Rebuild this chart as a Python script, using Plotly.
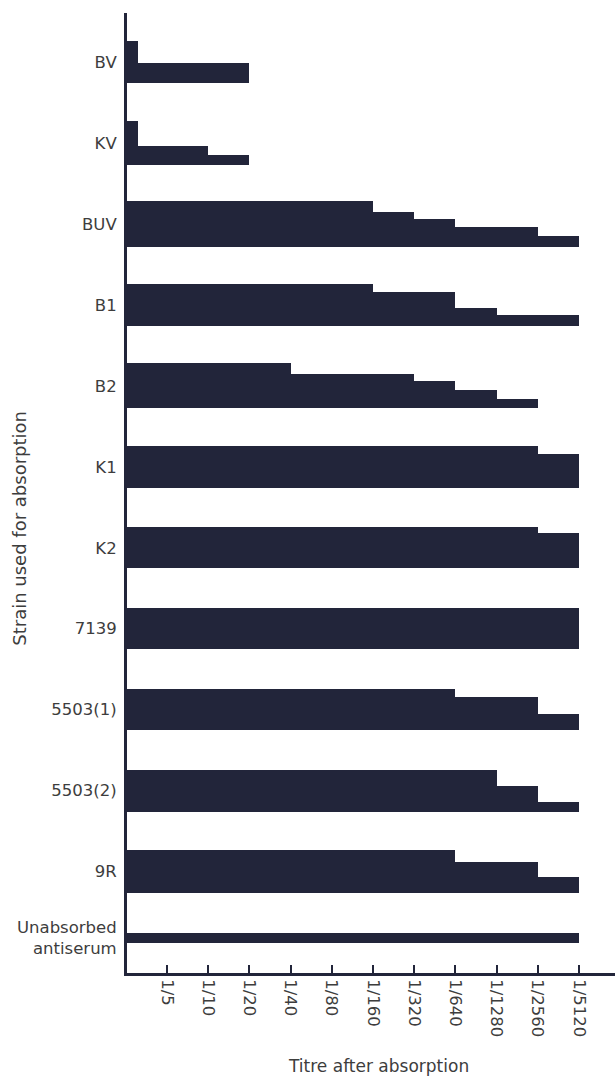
import plotly.graph_objects as go

# ---- data -------------------------------------------------------------
strains = ["BV", "KV", "BUV", "B1", "B2", "K1", "K2", "7139",
           "5503(1)", "5503(2)", "9R", "Unabsorbed<br>antiserum"]
titre_ticks = ["1/5", "1/10", "1/20", "1/40", "1/80", "1/160", "1/320",
               "1/640", "1/1280", "1/2560", "1/5120"]

# titre step reached by each band of a strain (1 = 1/5 ... 11 = 1/5120,
# values below 1 = below 1/5); bands listed top to bottom
bv_steps = [0.3, 3]
kv_steps = [0.3, 2, 3]
buv_steps = [6, 7, 8, 10, 11]
b1_steps = [6, 8, 9, 11]
b2_steps = [4, 7, 8, 9, 10]
k1_steps = [10, 11]
k2_steps = [10, 11]
s7139_steps = [11]
s5503_1_steps = [8, 10, 11]
s5503_2_steps = [9, 10, 11]
r9_steps = [8, 10, 11]
unabs_steps = [11]

# relative thickness of each band (same order)
bv_bands = [22.6, 20.0]
kv_bands = [25.0, 8.3, 10.0]
buv_bands = [10.7, 7.6, 7.7, 9.0, 11.0]
b1_bands = [8.3, 16.0, 7.4, 11.0]
b2_bands = [10.3, 7.4, 9.0, 8.6, 9.7]
k1_bands = [8.3, 34.0]
k2_bands = [5.7, 35.0]
s7139_bands = [41.0]
s5503_1_bands = [8.3, 17.4, 16.0]
s5503_2_bands = [16.0, 16.6, 9.4]
r9_bands = [11.7, 15.0, 16.6]
unabs_bands = [10.0]

all_steps = [bv_steps, kv_steps, buv_steps, b1_steps, b2_steps, k1_steps,
             k2_steps, s7139_steps, s5503_1_steps, s5503_2_steps, r9_steps,
             unabs_steps]
all_bands = [bv_bands, kv_bands, buv_bands, b1_bands, b2_bands, k1_bands,
             k2_bands, s7139_bands, s5503_1_bands, s5503_2_bands, r9_bands,
             unabs_bands]

# ---- layout constants ---------------------------------------------------
ROW_PITCH = 81.0                      # band units per row
row_pos = list(range(11)) + [10.82]   # row centres
BAR_COLOR = "#22253a"
TEXT_COLOR = "#3d3d3d"
FONT = "DejaVu Sans"

xs, ys, ws = [], [], []
for pos, steps, bands in zip(row_pos, all_steps, all_bands):
    total = sum(bands) / ROW_PITCH
    top = pos - total / 2
    for s, b in zip(steps, bands):
        h = b / ROW_PITCH
        xs.append(s)
        ys.append(top + h / 2)
        ws.append(h)
        top += h

fig = go.Figure(go.Bar(
    x=xs, y=ys, width=ws, base=0, orientation="h",
    marker=dict(color=BAR_COLOR, line=dict(width=0)),
    hoverinfo="skip", showlegend=False,
))

W, H = 615, 1077
L, R, T, B = 127, 0, 13, 103.5
plot_h = H - T - B
y_top = -(62 - T) / ROW_PITCH
y_bot = (H - B - 62) / ROW_PITCH
x_min = 0.03
x_max = x_min + (W - L - R) / 41.2

fig.update_layout(
    width=W, height=H,
    margin=dict(l=L, r=R, t=T, b=B, pad=0),
    paper_bgcolor="white", plot_bgcolor="white",
    font=dict(family=FONT, color=TEXT_COLOR, size=16),
    bargap=0,
    xaxis=dict(
        range=[x_min, x_max],
        tickmode="array",
        tickvals=list(range(1, len(titre_ticks) + 1)),
        ticktext=titre_ticks,
        tickangle=90,
        ticks="inside", ticklen=8, tickwidth=2, tickcolor=BAR_COLOR,
        showline=True, linewidth=3, linecolor=BAR_COLOR,
        showgrid=False, zeroline=False,
        tickfont=dict(family=FONT, size=16.5, color=TEXT_COLOR),
    ),
    yaxis=dict(
        range=[y_bot, y_top],
        tickmode="array",
        tickvals=row_pos,
        ticktext=strains,
        ticks="",
        ticklabelstandoff=4,
        showline=True, linewidth=3, linecolor=BAR_COLOR,
        showgrid=False, zeroline=False,
        tickfont=dict(family=FONT, size=16.5, color=TEXT_COLOR),
    ),
    annotations=[
        dict(text="Titre after absorption", xref="paper", yref="paper",
             x=(378 - L) / (W - L - R), y=(H - B - 1067) / plot_h,
             xanchor="center", yanchor="middle", showarrow=False,
             font=dict(family=FONT, size=17, color=TEXT_COLOR)),
        dict(text="Strain used for absorption", xref="paper", yref="paper",
             x=(20 - L) / (W - L - R), y=(H - B - 529) / plot_h,
             xanchor="center", yanchor="middle", textangle=-90,
             showarrow=False,
             font=dict(family=FONT, size=18, color=TEXT_COLOR)),
    ],
)

fig.write_html("out.html")
